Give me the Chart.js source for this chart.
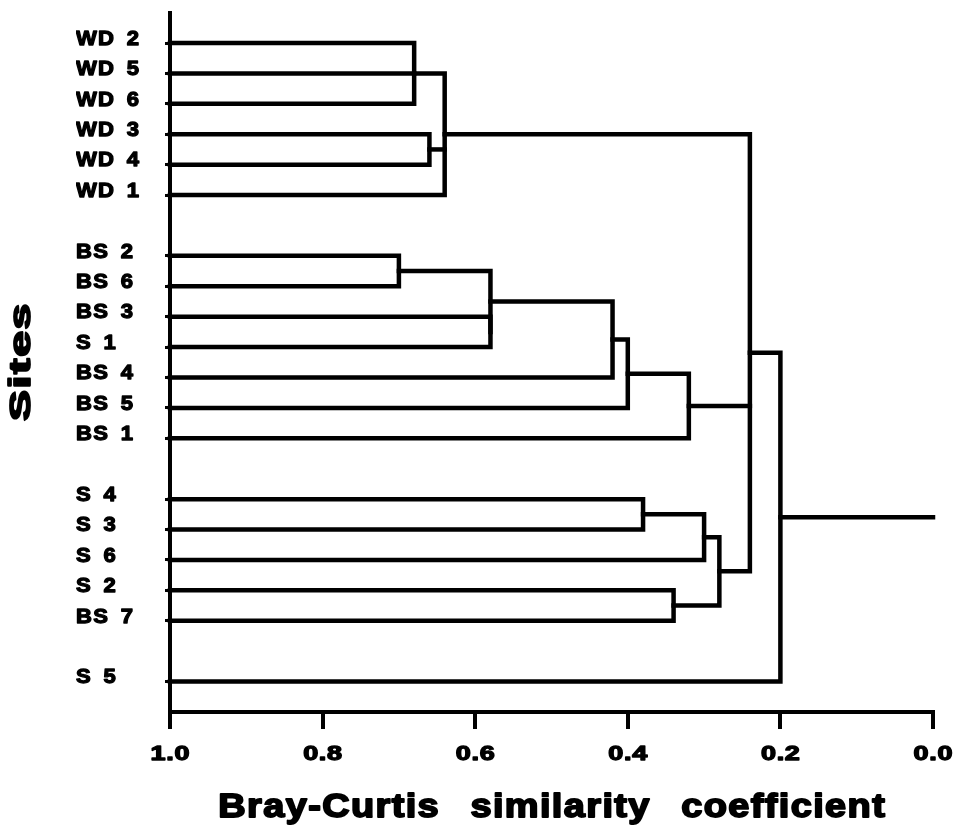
<!DOCTYPE html>
<html>
<head>
<meta charset="utf-8">
<script src="https://cdn.jsdelivr.net/npm/chart.js"></script>
<style>
html,body{margin:0;padding:0;background:#fff;}
#wrap{width:966px;height:832px;position:relative;}
</style>
</head>
<body>
<div id="wrap"><canvas id="c"></canvas></div>
<script>
// ---------- data ----------
const wdSites = ["WD 2", "WD 5", "WD 6", "WD 3", "WD 4", "WD 1"];
const bsSites = ["BS 2", "BS 6", "BS 3", "S 1", "BS 4", "BS 5", "BS 1"];
const sSites = ["S 4", "S 3", "S 6", "S 2", "BS 7"];
const outlierSites = ["S 5"];

// cluster merges: id, members, similarity level at which they join
const nodeIds = ["n1", "n2", "n3", "n4", "n5", "n6", "n7", "n8", "n9", "n10", "n11", "n12", "n13", "n14", "n15"];
const nodeChildren = [
  ["WD 2", "WD 5", "WD 6"],
  ["WD 3", "WD 4"],
  ["n1", "n2", "WD 1"],
  ["BS 2", "BS 6"],
  ["BS 3", "S 1"],
  ["n4", "n5"],
  ["n6", "BS 4"],
  ["n7", "BS 5"],
  ["n8", "BS 1"],
  ["S 4", "S 3"],
  ["n10", "S 6"],
  ["S 2", "BS 7"],
  ["n11", "n12"],
  ["n3", "n9", "n13"],
  ["n14", "S 5"]
];
const nodeSimilarity = [0.68, 0.66, 0.64, 0.70, 0.58, 0.58, 0.42, 0.40, 0.32, 0.38, 0.30, 0.34, 0.28, 0.24, 0.20];
const leafSimilarity = 1.0;
const stemEnd = 0.0;

const xTickValues = [1.0, 0.8, 0.6, 0.4, 0.2, 0.0];
const xTickLabels = ["1.0", "0.8", "0.6", "0.4", "0.2", "0.0"];
const xTitle = "Bray-Curtis similarity coefficient";
const yTitle = "Sites";

// ---------- build dendrogram geometry from the data ----------
const siteGroups = [wdSites, bsSites, sSites, outlierSites];
const pos = {};
const rowLabel = {};
const leafRows = [];
let row = 0;
siteGroups.forEach(g => {
  g.forEach(s => {
    pos[s] = { x: leafSimilarity, y: row };
    rowLabel[row] = s;
    leafRows.push(row);
    row++;
  });
  row++; // blank row between groups
});
const yMax = row - 1;
const yMin = -1;

const segments = [];
nodeIds.forEach((id, i) => {
  const h = nodeSimilarity[i];
  const kids = nodeChildren[i].map(k => pos[k]).sort((a, b) => a.y - b.y);
  const first = kids[0], last = kids[kids.length - 1];
  segments.push([{ x: first.x, y: first.y }, { x: h, y: first.y }, { x: h, y: last.y }, { x: last.x, y: last.y }]);
  kids.slice(1, -1).forEach(k => segments.push([{ x: k.x, y: k.y }, { x: h, y: k.y }]));
  pos[id] = { x: h, y: (first.y + last.y) / 2 };
});
const root = pos[nodeIds[nodeIds.length - 1]];
segments.push([{ x: root.x, y: root.y }, { x: stemEnd, y: root.y }]);

const datasets = segments.map(seg => ({
  data: seg,
  showLine: true,
  borderColor: "#000",
  borderWidth: 4.5,
  borderJoinStyle: "miter",
  borderCapStyle: "square",
  pointRadius: 0,
  pointHoverRadius: 0,
  tension: 0,
  clip: false
}));

// ---------- text styling helpers (spacing / horizontal stretch / weight) ----------
const FAMILY = '"Liberation Sans", Arial, Helvetica, sans-serif';
const textStyle = {
  x: { labels: { ls: 0.5, ws: 0, k: 1.35, stroke: 1.3 }, title: { ls: 1.2, ws: 16, k: 1.15, stroke: 1.8 } },
  y: { labels: { ls: 1.2, ws: 4, k: 1.05, stroke: 1.3 } },
  ySites: { title: { ls: 1, ws: 0, k: 1.6, stroke: 1.8 } }
};
function withStyle(ctx, cfg, fn) {
  ctx.save();
  ctx.letterSpacing = cfg.ls + "px";
  ctx.wordSpacing = cfg.ws + "px";
  const proto = CanvasRenderingContext2D.prototype;
  ctx.fillText = function (text, x, y) {
    this.save();
    this.translate(x, y);
    this.scale(cfg.k, 1);
    // compensate trailing letter spacing for centered text
    if (this.textAlign === "center") this.translate(cfg.ls / 2, 0);
    if (cfg.stroke) {
      this.lineWidth = cfg.stroke;
      this.strokeStyle = this.fillStyle;
      this.lineJoin = "round";
      proto.strokeText.call(this, text, 0, 0);
    }
    proto.fillText.call(this, text, 0, 0);
    this.restore();
  };
  try { fn(); } finally {
    delete ctx.fillText;
    ctx.restore();
  }
}
const stylePlugin = {
  id: "textStyle",
  beforeDraw(chart) {
    Object.values(chart.scales).forEach(scale => {
      if (scale._stPatched) return;
      scale._stPatched = true;
      const st = textStyle[scale.id] || {};
      [["drawLabels", "labels"], ["drawTitle", "title"]].forEach(([m, key]) => {
        const cfg = st[key];
        if (!cfg) return;
        const orig = scale[m].bind(scale);
        scale[m] = function (...args) { withStyle(chart.ctx, cfg, () => orig(...args)); };
      });
    });
  }
};

// ---------- chart ----------
new Chart(document.getElementById("c"), {
  type: "scatter",
  data: { datasets },
  plugins: [stylePlugin],
  options: {
    responsive: true,
    maintainAspectRatio: false,
    animation: false,
    events: [],
    layout: { padding: { top: 8, right: 33, bottom: 4, left: 0 } },
    plugins: { legend: { display: false }, tooltip: { enabled: false }, title: { display: false } },
    scales: {
      x: {
        type: "linear",
        position: "bottom",
        reverse: true,
        min: 0,
        max: 1,
        afterBuildTicks(s) { s.ticks = xTickValues.map(v => ({ value: v })); },
        afterFit(s) { s.height = 116; },
        ticks: {
          autoSkip: false,
          maxRotation: 0,
          padding: 13,
          color: "#000",
          font: { family: FAMILY, size: 20, weight: "bold" },
          callback: (v) => xTickLabels[xTickValues.indexOf(v)]
        },
        grid: { display: true, drawOnChartArea: false, drawTicks: true, tickLength: 17, tickWidth: 4, lineWidth: 4, tickColor: "#000", color: "#000" },
        border: { display: true, color: "#000", width: 4 },
        title: { display: true, text: xTitle, color: "#000", font: { family: FAMILY, size: 33, weight: "bold" }, padding: { top: 0, bottom: 0 } }
      },
      y: {
        type: "linear",
        position: "left",
        weight: 0,
        reverse: true,
        min: yMin,
        max: yMax,
        afterBuildTicks(s) { s.ticks = leafRows.map(v => ({ value: v })); },
        afterFit(s) { s.width = 94; },
        ticks: {
          autoSkip: false,
          crossAlign: "far",
          padding: 0,
          labelOffset: -4,
          color: "#000",
          font: { family: FAMILY, size: 21, weight: "bold" },
          callback: (v) => rowLabel[v]
        },
        grid: { display: true, drawOnChartArea: false, drawTicks: true, tickLength: 5, tickWidth: 3, lineWidth: 3, tickColor: "#000", color: "#000" },
        border: { display: true, color: "#000", width: 4 }
      },
      ySites: {
        type: "linear",
        position: "left",
        weight: 1,
        min: 0,
        max: 1,
        afterFit(s) { s.width = 76; },
        ticks: { display: false },
        grid: { display: false, drawTicks: false },
        border: { display: false },
        title: { display: true, text: yTitle, color: "#000", font: { family: FAMILY, size: 29, weight: "bold" }, padding: { top: 5, bottom: 0 } }
      }
    }
  }
});
</script>
</body>
</html>
